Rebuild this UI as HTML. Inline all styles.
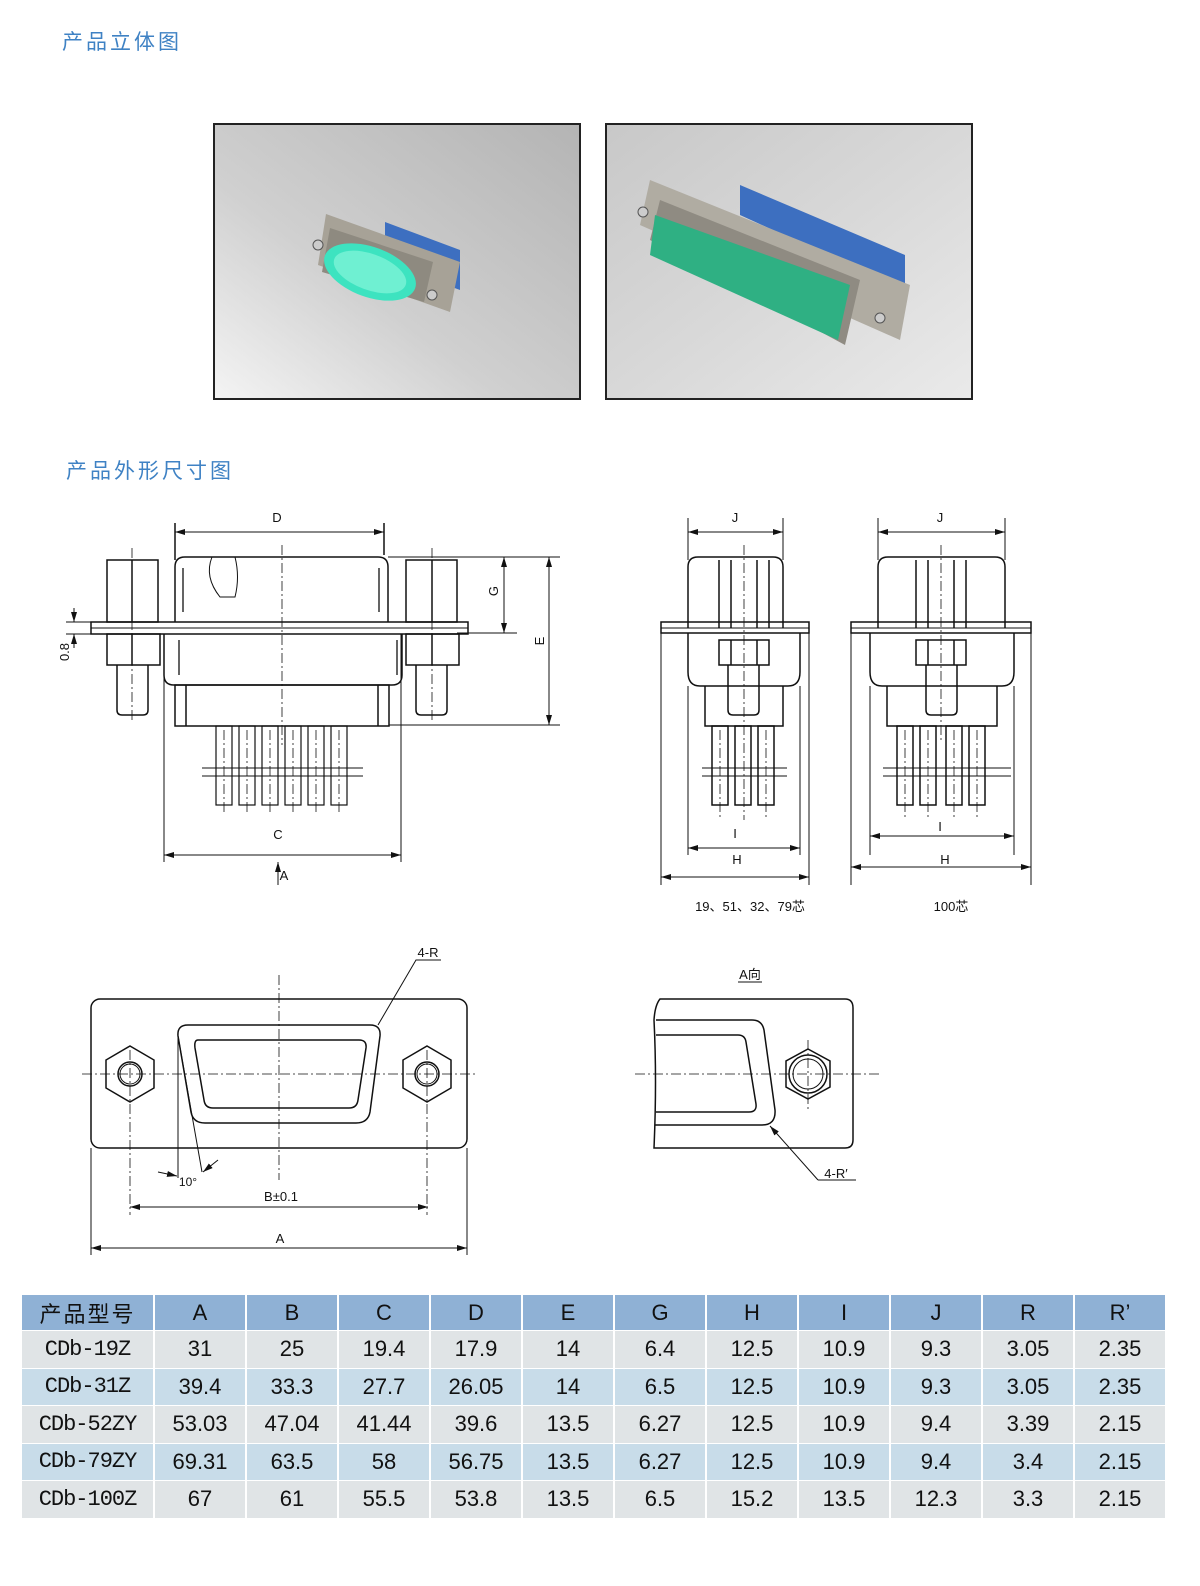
<!DOCTYPE html>
<html><head><meta charset="utf-8"><style>
*{margin:0;padding:0}
html{width:1200px;height:1586px;overflow:hidden}
body{width:1200px;height:1586px;background:#fff;position:relative;overflow:hidden;font-family:"Liberation Sans","Noto Sans CJK SC",sans-serif}
.h{position:absolute;color:#3f82c4;font-size:21px;letter-spacing:3px;font-family:"Liberation Sans","Noto Sans CJK SC",sans-serif;white-space:nowrap}
svg{position:absolute;left:0;top:0;display:block}
table{position:absolute;left:20px;top:1295px;border-collapse:separate;border-spacing:2px 0;table-layout:fixed;width:1147px}
td{height:36.5px;text-align:center;font-size:22px;color:#111;padding:0;border-bottom:1px solid #fff;overflow:hidden;white-space:nowrap}
tr.hd td{background:#8fb1d5;height:35px}
tr.g td{background:#e0e4e6}tr.b td{background:#c8dce9}
td.m{font-family:"Liberation Mono","Noto Sans CJK SC",monospace;font-size:22px;letter-spacing:-1px}
</style></head><body>
<div class="h" style="left:62px;top:26px">产品立体图</div>
<div class="h" style="left:66px;top:455px">产品外形尺寸图</div>
<svg width="1200" height="1586" viewBox="0 0 1200 1586" font-family="Liberation Sans, Noto Sans CJK SC, sans-serif">
<defs>
<linearGradient id="bg1" x1="1" y1="0" x2="0" y2="1"><stop offset="0" stop-color="#b4b4b4"/><stop offset="0.6" stop-color="#d0d0d0"/><stop offset="1" stop-color="#f4f4f4"/></linearGradient>
<linearGradient id="bg2" x1="0" y1="0" x2="1" y2="1"><stop offset="0" stop-color="#c8c8c8"/><stop offset="0.5" stop-color="#d8d8d8"/><stop offset="1" stop-color="#eaeaea"/></linearGradient>
<marker id="ar" viewBox="0 0 10 6" refX="10" refY="3" markerWidth="10" markerHeight="6" orient="auto-start-reverse"><path d="M0,0L10,3L0,6z" fill="#111"/></marker>
</defs>
<rect x="214" y="124" width="366" height="275" fill="url(#bg1)" stroke="#222" stroke-width="2"/>
<rect x="606" y="124" width="366" height="275" fill="url(#bg2)" stroke="#222" stroke-width="2"/>
<g>
<polygon points="385,222 460,250 460,290 385,262" fill="#3d6fc0"/>
<polygon points="326,214 460,262 450,312 318,265" fill="#a7a297"/>
<polygon points="330,228 433,262 424,302 322,272" fill="#8e8a80"/>
<ellipse cx="370" cy="272" rx="48" ry="25" transform="rotate(20 370 272)" fill="#3de3c0"/>
<ellipse cx="370" cy="272" rx="38" ry="18" transform="rotate(20 370 272)" fill="#6ff0d2"/>
<circle cx="318" cy="245" r="5" fill="#ccc" stroke="#555"/><circle cx="432" cy="295" r="5" fill="#ccc" stroke="#555"/>
</g>
<g>
<polygon points="740,185 905,255 905,290 740,215" fill="#3d6fc0"/>
<polygon points="650,180 910,285 900,340 640,225" fill="#b0aca2"/>
<polygon points="660,200 860,280 845,345 650,240" fill="#8f8b82"/>
<polygon points="655,215 850,285 838,340 650,255" fill="#2fb083"/>
<circle cx="643" cy="212" r="5" fill="#ccc" stroke="#555"/><circle cx="880" cy="318" r="5" fill="#ccc" stroke="#555"/>
</g>

<g fill="none" stroke="#111" stroke-width="1.5">
<path d="M175,523V560M384,523V555"/>
<line x1="175" y1="532" x2="384" y2="532" marker-start="url(#ar)" marker-end="url(#ar)" stroke-width="1"/>
<path d="M175,622V567Q175,557 185,557H378Q388,557 388,567V622"/>
<path d="M212,557q-8,20 8,40h15q5,-20 0,-40" stroke-width="1"/>
<path d="M183,568V612M379,568V612M179,640V675M397,640V675" stroke-width="1.3"/>
<rect x="107" y="560" width="51" height="62"/><line x1="132" y1="560" x2="132" y2="622"/>
<rect x="406" y="560" width="51" height="62"/><line x1="432" y1="560" x2="432" y2="622"/>
<rect x="91" y="622" width="377" height="12"/><line x1="91" y1="628" x2="468" y2="628" stroke-width="1"/>
<rect x="107" y="634" width="53" height="31"/><line x1="132" y1="634" x2="132" y2="665"/>
<rect x="406" y="634" width="53" height="31"/><line x1="432" y1="634" x2="432" y2="665"/>
<path d="M117,665V710Q117,715 122,715H143Q148,715 148,710V665"/>
<path d="M416,665V710Q416,715 421,715H442Q447,715 447,710V665"/>
<path d="M164,634V675Q164,685 174,685H392Q402,685 402,675V634"/>
<rect x="175" y="685" width="214" height="41"/><path d="M186,685V726M378,685V726"/>
<g stroke-width="1.2">
<rect x="216" y="726" width="16" height="79"/><rect x="239" y="726" width="16" height="79"/><rect x="262" y="726" width="16" height="79"/><rect x="285" y="726" width="16" height="79"/><rect x="308" y="726" width="16" height="79"/><rect x="331" y="726" width="16" height="79"/>
<path d="M202,768H363M202,776H363" stroke-width="1"/>
</g>
<path d="M282,545V745M224,730V815M247,730V815M270,730V815M293,730V815M316,730V815M339,730V815M132,548V720M432,548V720" stroke-width="0.8" stroke-dasharray="10,3,2,3"/>
<path d="M164,634V862M401,634V862" stroke-width="1"/>
<line x1="164" y1="855" x2="401" y2="855" marker-start="url(#ar)" marker-end="url(#ar)" stroke-width="1"/>
<line x1="278" y1="885" x2="278" y2="862" marker-end="url(#ar)" stroke-width="1"/>
<path d="M388,557H560M457,633H517M389,725H560" stroke-width="1"/>
<line x1="504" y1="557" x2="504" y2="633" marker-start="url(#ar)" marker-end="url(#ar)" stroke-width="1"/>
<line x1="549" y1="557" x2="549" y2="725" marker-start="url(#ar)" marker-end="url(#ar)" stroke-width="1"/>
<path d="M66,622H107M66,634H107" stroke-width="1"/>
<line x1="74" y1="608" x2="74" y2="622" marker-end="url(#ar)" stroke-width="1"/>
<line x1="74" y1="648" x2="74" y2="634" marker-end="url(#ar)" stroke-width="1"/>

<path d="M688,518V560M783,518V560" stroke-width="1"/>
<line x1="688" y1="532" x2="783" y2="532" marker-start="url(#ar)" marker-end="url(#ar)" stroke-width="1"/>
<path d="M688,628V567Q688,557 698,557H773Q783,557 783,567V628"/>
<path d="M719,560V628M731,560V628M757,560V628M769,560V628"/>
<rect x="661" y="622" width="148" height="11"/><line x1="661" y1="628" x2="809" y2="628" stroke-width="1"/>
<path d="M688,633V672Q688,686 700,686H788Q800,686 800,672V633"/>
<rect x="719" y="640" width="50" height="25"/><path d="M731,640V665M757,640V665"/>
<path d="M728,665V710Q728,715 733,715H754Q759,715 759,710V665"/>
<path d="M705,686V726H783V686"/>
<rect x="712" y="726" width="16" height="79"/><rect x="735" y="726" width="16" height="79"/><rect x="758" y="726" width="16" height="79"/>
<path d="M702,768H787M702,776H787" stroke-width="1"/>
<path d="M744,545V820M720,730V820M766,730V820" stroke-width="0.8" stroke-dasharray="10,3,2,3"/>
<path d="M688,686V855M800,686V855M661,633V885M809,633V885" stroke-width="1"/>
<line x1="688" y1="848" x2="800" y2="848" marker-start="url(#ar)" marker-end="url(#ar)" stroke-width="1"/>
<line x1="661" y1="877" x2="809" y2="877" marker-start="url(#ar)" marker-end="url(#ar)" stroke-width="1"/>

<path d="M878,518V560M1005,518V560" stroke-width="1"/>
<line x1="878" y1="532" x2="1005" y2="532" marker-start="url(#ar)" marker-end="url(#ar)" stroke-width="1"/>
<path d="M878,628V567Q878,557 888,557H995Q1005,557 1005,567V628"/>
<path d="M916,560V628M928,560V628M954,560V628M966,560V628"/>
<rect x="851" y="622" width="180" height="11"/><line x1="851" y1="628" x2="1031" y2="628" stroke-width="1"/>
<path d="M870,633V672Q870,686 882,686H1002Q1014,686 1014,672V633"/>
<rect x="916" y="640" width="50" height="25"/><path d="M928,640V665M954,640V665"/>
<path d="M926,665V710Q926,715 931,715H952Q957,715 957,710V665"/>
<path d="M887,686V726H997V686"/>
<rect x="897" y="726" width="16" height="79"/><rect x="920" y="726" width="16" height="79"/><rect x="946" y="726" width="16" height="79"/><rect x="969" y="726" width="16" height="79"/>
<path d="M883,768H1011M883,776H1011" stroke-width="1"/>
<path d="M941,545V740M905,730V820M928,730V820M954,730V820M977,730V820" stroke-width="0.8" stroke-dasharray="10,3,2,3"/>
<path d="M870,686V855M1014,686V855M851,633V885M1031,633V885" stroke-width="1"/>
<line x1="870" y1="836" x2="1014" y2="836" marker-start="url(#ar)" marker-end="url(#ar)" stroke-width="1"/>
<line x1="851" y1="867" x2="1031" y2="867" marker-start="url(#ar)" marker-end="url(#ar)" stroke-width="1"/>

<rect x="91" y="999" width="376" height="149" rx="9"/>
<polygon points="130,1046 154,1060 154,1088 130,1102 106,1088 106,1060"/>
<circle cx="130" cy="1074" r="12"/><circle cx="130" cy="1074" r="10" stroke-width="1"/>
<polygon points="427,1046 451,1060 451,1088 427,1102 403,1088 403,1060"/>
<circle cx="427" cy="1074" r="12"/><circle cx="427" cy="1074" r="10" stroke-width="1"/>
<path d="M188,1025H370Q381,1025 380,1036L370,1112Q368,1123 356,1123H205Q193,1123 191,1112L178,1036Q177,1025 188,1025Z"/>
<path d="M198,1040H359Q367,1040 366,1048L358,1100Q357,1108 349,1108H213Q205,1108 204,1100L195,1048Q194,1040 198,1040Z"/>
<path d="M82,1074H476M279,975V1180M130,1050V1215M427,1050V1215" stroke-width="0.8" stroke-dasharray="10,3,2,3"/>
<path d="M91,1148V1255M467,1148V1255M178,1036V1178M178,1036L202,1172" stroke-width="1"/>
<path d="M378,1025L416,960H441" stroke-width="1"/>
<line x1="130" y1="1207" x2="428" y2="1207" marker-start="url(#ar)" marker-end="url(#ar)" stroke-width="1"/>
<line x1="91" y1="1248" x2="467" y2="1248" marker-start="url(#ar)" marker-end="url(#ar)" stroke-width="1"/>
<line x1="158" y1="1172" x2="177" y2="1176" marker-end="url(#ar)" stroke-width="1"/>
<line x1="218" y1="1160" x2="203" y2="1172" marker-end="url(#ar)" stroke-width="1"/>

<path d="M660,999H845Q853,999 853,1008V1140Q853,1148 845,1148H654Q657,1080 654,1020Q655,1005 660,999Z"/>
<path d="M656,1020H752Q762,1020 764,1030L775,1110Q776,1125 762,1125H655"/>
<path d="M656,1035H738Q745,1035 746,1042L756,1104Q757,1112 749,1112H656"/>
<polygon points="808,1049 830,1061 830,1087 808,1099 786,1087 786,1061"/>
<circle cx="808" cy="1074" r="19"/><circle cx="808" cy="1074" r="15" stroke-width="1"/>
<path d="M635,1074H880M808,1040V1112" stroke-width="0.8" stroke-dasharray="10,3,2,3"/>
<line x1="818" y1="1180" x2="770" y2="1126" marker-end="url(#ar)" stroke-width="1"/>
<path d="M818,1180H856M738,982H762" stroke-width="1"/>
</g>

<g font-size="13" fill="#111" text-anchor="middle">
<text x="277" y="522">D</text><text x="278" y="839">C</text><text x="284" y="880">A</text>
<text x="498" y="591" transform="rotate(-90 498 591)">G</text>
<text x="544" y="641" transform="rotate(-90 544 641)">E</text>
<text x="69" y="652" transform="rotate(-90 69 652)">0.8</text>
<text x="735" y="522">J</text><text x="735" y="838">I</text><text x="737" y="864">H</text>
<text x="940" y="522">J</text><text x="940" y="831">I</text><text x="945" y="864">H</text>
<text x="750" y="911" font-size="13">19、51、32、79芯</text>
<text x="951" y="911" font-size="13">100芯</text>
<text x="428" y="957">4-R</text><text x="281" y="1201">B±0.1</text><text x="280" y="1243">A</text>
<text x="188" y="1186" font-size="12">10°</text>
<text x="750" y="979">A向</text><text x="836" y="1178">4-R′</text>
</g>
</svg>
<table>
<colgroup><col style="width:131px"><col span="11" style="width:90px"></colgroup>
<tr class="hd"><td style="letter-spacing:2px">产品型号</td><td>A</td><td>B</td><td>C</td><td>D</td><td>E</td><td>G</td><td>H</td><td>I</td><td>J</td><td>R</td><td>R’</td></tr>
<tr class="g"><td class="m">CDb-19Z</td><td>31</td><td>25</td><td>19.4</td><td>17.9</td><td>14</td><td>6.4</td><td>12.5</td><td>10.9</td><td>9.3</td><td>3.05</td><td>2.35</td></tr>
<tr class="b"><td class="m">CDb-31Z</td><td>39.4</td><td>33.3</td><td>27.7</td><td>26.05</td><td>14</td><td>6.5</td><td>12.5</td><td>10.9</td><td>9.3</td><td>3.05</td><td>2.35</td></tr>
<tr class="g"><td class="m">CDb-52ZY</td><td>53.03</td><td>47.04</td><td>41.44</td><td>39.6</td><td>13.5</td><td>6.27</td><td>12.5</td><td>10.9</td><td>9.4</td><td>3.39</td><td>2.15</td></tr>
<tr class="b"><td class="m">CDb-79ZY</td><td>69.31</td><td>63.5</td><td>58</td><td>56.75</td><td>13.5</td><td>6.27</td><td>12.5</td><td>10.9</td><td>9.4</td><td>3.4</td><td>2.15</td></tr>
<tr class="g"><td class="m">CDb-100Z</td><td>67</td><td>61</td><td>55.5</td><td>53.8</td><td>13.5</td><td>6.5</td><td>15.2</td><td>13.5</td><td>12.3</td><td>3.3</td><td>2.15</td></tr>
</table>
</body></html>
